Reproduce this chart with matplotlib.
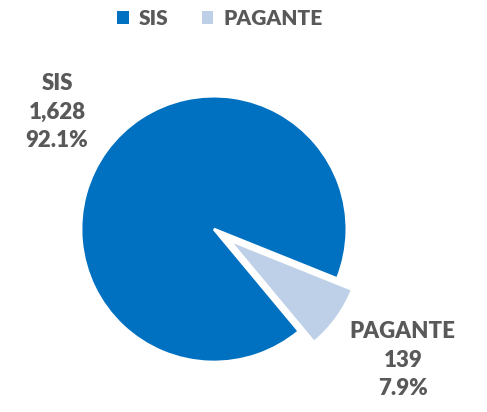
import matplotlib.pyplot as plt
from matplotlib.patches import Patch

plt.rc('font', family='Lato', weight='heavy')

categories = ['SIS', 'PAGANTE']
counts = [1628, 139]
colors = ['#0070C0', '#BDD0E8']
txt_color = '#595959'

total = sum(counts)
pcts = [100.0 * c / total for c in counts]

fig = plt.figure(figsize=(4.87, 4.12), dpi=100)
ax = fig.add_axes([0.0298, -0.040, 0.819, 0.968])

wedges, _ = ax.pie(counts, colors=colors, startangle=-21.9, counterclock=True,
                   explode=[0, 0.14],
                   wedgeprops=dict(edgecolor='white', linewidth=2))
ax.set_xlim(-1.5, 1.5)
ax.set_ylim(-1.5, 1.5)
ax.axis('off')

# data labels: name, value, percent
label_pos = [(-1.18, 0.88), (1.42, -0.985)]
for name, c, p, (x, y) in zip(categories, counts, pcts, label_pos):
    ax.text(x, y, '%s\n%s\n%.1f%%' % (name, format(c, ','), p),
            ha='center', va='center', fontsize=16, color=txt_color,
            linespacing=1.45, clip_on=False)

handles = [Patch(facecolor=col, edgecolor='none') for col in colors]
fig.legend(handles, categories, loc='center', bbox_to_anchor=(0.452, 0.956),
           ncol=2, frameon=False, fontsize=15, handlelength=0.55, handleheight=0.55,
           handletextpad=0.5, columnspacing=1.6, labelcolor=txt_color)

fig.savefig('out.png', dpi=100)
